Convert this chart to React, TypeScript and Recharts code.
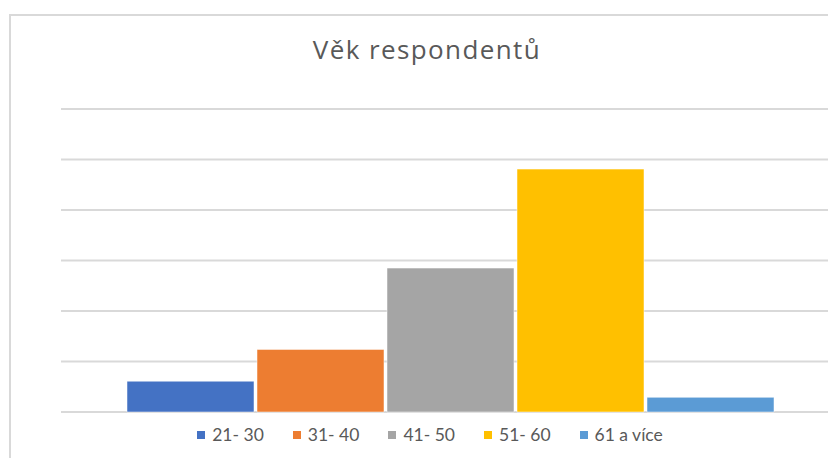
import { BarChart, Bar, XAxis, YAxis, CartesianGrid } from "recharts";

const ageGroups = ["21- 30", "31- 40", "41- 50", "51- 60", "61 a více"];
const shares = [6.1, 12.4, 28.5, 48.1, 2.9];
const colors = ["#4472C4", "#ED7D31", "#A5A5A5", "#FFC000", "#5B9BD5"];
const yTicks = [0, 10, 20, 30, 40, 50, 60];

// one category, each age group is its own series (like the Excel original)
const row: Record<string, string | number> = { name: "Věk respondentů" };
ageGroups.forEach((g, i) => {
  row[`s${i}`] = shares[i];
});
const chartData = [row];

const font = "Lato, 'Open Sans', sans-serif";
const textColor = "#595959";

function AgeLegend() {
  return (
    <div
      style={{
        display: "flex",
        justifyContent: "center",
        gap: 29,
        fontFamily: font,
        fontSize: 17.5,
        color: textColor,
      }}
    >
      {ageGroups.map((g, i) => (
        <span key={g} style={{ display: "flex", alignItems: "center" }}>
          <span
            style={{
              display: "inline-block",
              width: 8,
              height: 8,
              marginRight: 7,
              backgroundColor: colors[i],
            }}
          />
          {g}
        </span>
      ))}
    </div>
  );
}

export default function App() {
  return (
    <div
      style={{
        position: "absolute",
        left: 0,
        top: 0,
        width: 828,
        height: 458,
        overflow: "hidden",
        background: "#fff",
      }}
    >
      {/* chart frame */}
      <div
        style={{
          position: "absolute",
          left: 9,
          top: 14,
          width: 850,
          height: 470,
          border: "2px solid #d9d9d9",
          boxSizing: "border-box",
        }}
      />
      <div
        style={{
          position: "absolute",
          left: 9,
          top: 31,
          width: 836,
          textAlign: "center",
          fontFamily: "'Open Sans', sans-serif",
          fontSize: 26,
          letterSpacing: 1.4,
          color: textColor,
        }}
      >
        Věk respondentů
      </div>
      <div style={{ position: "absolute", left: 0, top: 0 }}>
        <BarChart
          width={850}
          height={458}
          data={chartData}
          margin={{ top: 109, right: 11, bottom: 46, left: 61 }}
          barCategoryGap={66}
          barGap={3}
        >
          <CartesianGrid
            vertical={false}
            stroke="#d9d9d9"
            strokeWidth={2}
          />
          <XAxis dataKey="name" hide />
          <YAxis hide domain={[0, 60]} ticks={yTicks} />
          {ageGroups.map((g, i) => (
            <Bar
              key={g}
              dataKey={`s${i}`}
              name={g}
              fill={colors[i]}
              stroke="#ffffff"
              strokeWidth={0.5}
              isAnimationActive={false}
            />
          ))}
        </BarChart>
      </div>
      <div style={{ position: "absolute", left: 12, top: 424, width: 836 }}>
        <AgeLegend />
      </div>
    </div>
  );
}
